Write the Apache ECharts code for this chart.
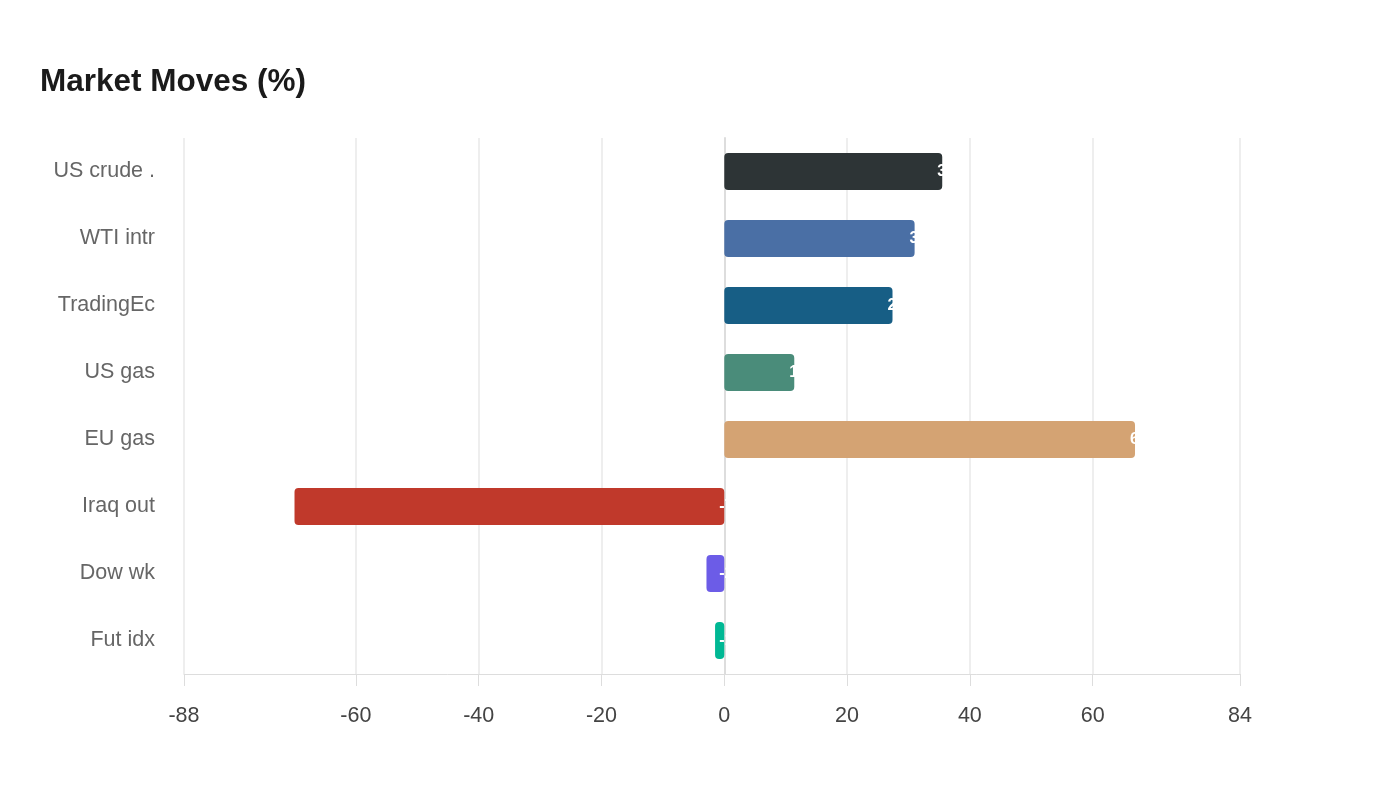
<!DOCTYPE html>
<html><head><meta charset="utf-8">
<script src="https://cdn.jsdelivr.net/npm/echarts@6/dist/echarts.min.js"></script>
<style>html,body{margin:0;padding:0;background:#fff}#c{width:1400px;height:800px}</style>
</head><body><div id="c"></div>
<script>
const categories = ['US crude .', 'WTI intr', 'TradingEc', 'US gas', 'EU gas', 'Iraq out', 'Dow wk', 'Fut idx'];
const values = [35.5, 31, 27.4, 11.4, 66.9, -70, -2.9, -1.5];
const colors = ['#2d3436', '#4a6fa5', '#175e85', '#4a8c7a', '#d4a373', '#c0392b', '#6c5ce7', '#00b894'];
const tickValues = [-88, -60, -40, -20, 0, 20, 40, 60, 84];

const chart = echarts.init(document.getElementById('c'));
chart.setOption({
  backgroundColor: '#fff',
  animation: false,
  title: {text: 'Market Moves (%)', left: 35, top: 61, textStyle: {fontFamily: 'Liberation Sans', fontSize: 31.5, fontWeight: 'bold', color: '#1a1a1a'}},
  grid: {left: 184, right: 160, top: 138, bottom: 126},
  xAxis: {
    type: 'value', min: -88, max: 84,
    axisLine: {show: true, lineStyle: {color: '#ddd'}},
    axisTick: {show: true, customValues: tickValues, length: 12, lineStyle: {color: '#ddd'}},
    axisLabel: {customValues: tickValues, color: '#444', fontSize: 21.5, fontFamily: 'Liberation Sans', margin: 31},
    splitLine: {show: true, lineStyle: {color: '#eee', width: 2}}
  },
  yAxis: {
    type: 'category', data: categories, inverse: true,
    axisLine: {show: true, lineStyle: {color: '#ddd', width: 2}},
    axisTick: {show: false},
    axisLabel: {color: '#666', fontSize: 21.5, fontFamily: 'Liberation Sans', margin: 29, padding: [4, 0, 0, 0]}
  },
  series: [{
    type: 'bar',
    data: values.map((v, i) => ({value: v, itemStyle: {color: colors[i]}})),
    barWidth: 37,
    itemStyle: {borderRadius: 4},
    label: {show: true, position: 'right', distance: -5, color: '#fff', fontSize: 16, fontWeight: 'bold', fontFamily: 'Liberation Sans'}
  }]
});
</script></body></html>
